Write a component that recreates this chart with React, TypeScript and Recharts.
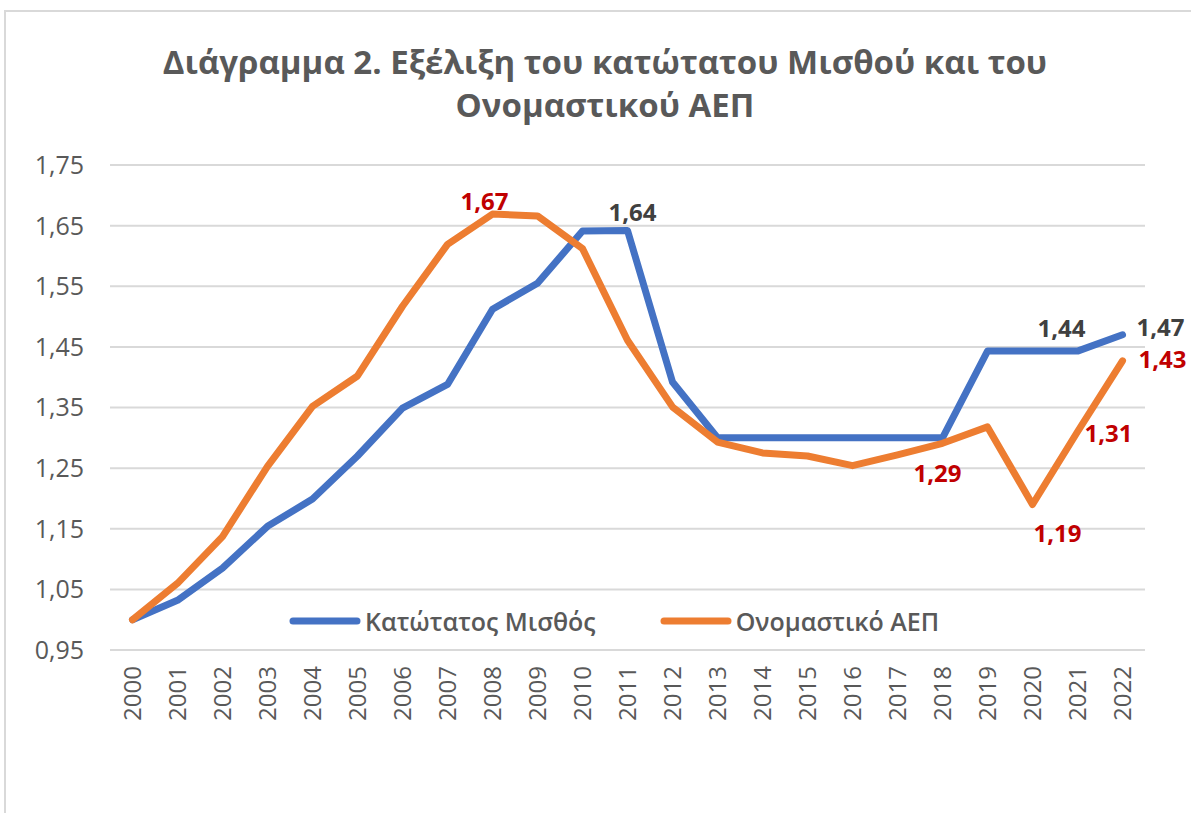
import React from "react";
import { CartesianGrid, LabelList, Legend, Line, LineChart, XAxis, YAxis } from "recharts";

const years = [
  "2000", "2001", "2002", "2003", "2004", "2005", "2006", "2007", "2008", "2009", "2010", "2011",
  "2012", "2013", "2014", "2015", "2016", "2017", "2018", "2019", "2020", "2021", "2022",
];

// Κατώτατος Μισθός (index 2000 = 1)
const minWage = [
  1.0, 1.032, 1.085, 1.154, 1.199, 1.27, 1.349, 1.388, 1.512, 1.555, 1.641, 1.642,
  1.392, 1.3, 1.3, 1.3, 1.3, 1.3, 1.3, 1.443, 1.443, 1.443, 1.47,
];

// Ονομαστικό ΑΕΠ (index 2000 = 1)
const nominalGdp = [
  1.0, 1.06, 1.137, 1.253, 1.352, 1.402, 1.517, 1.619, 1.669, 1.666, 1.612, 1.461,
  1.351, 1.293, 1.275, 1.27, 1.254, 1.272, 1.291, 1.318, 1.19, 1.31, 1.427,
];

const yTicks = [0.95, 1.05, 1.15, 1.25, 1.35, 1.45, 1.55, 1.65, 1.75];

const data = years.map((year, i) => ({ year, wage: minWage[i], gdp: nominalGdp[i] }));

// which points carry a data label, and where the label sits relative to the point
const wageLabelPos: Record<number, [number, number]> = { 11: [5, -19], 20: [29, -24], 22: [38, -8] };
const gdpLabelPos: Record<number, [number, number]> = {
  8: [-8, -14],
  18: [-5, 29],
  20: [25, 28],
  21: [31, 1],
  22: [40, -2],
};

const FONT = "'Open Sans', sans-serif";
const GREY = "#595959";
const BLUE = "#4472C4";
const ORANGE = "#ED7D31";

const fmt = (v: number) => v.toFixed(2).replace(".", ",");

function makeLabel(pos: Record<number, [number, number]>, color: string) {
  return (props: any) => {
    const p = pos[props.index];
    if (!p) return null;
    return (
      <text
        x={Number(props.x) + p[0]}
        y={Number(props.y) + p[1]}
        textAnchor="middle"
        dominantBaseline="central"
        fill={color}
        fontFamily={FONT}
        fontSize={24}
        fontWeight={700}
      >
        {fmt(Number(props.value))}
      </text>
    );
  };
}

function YearTick(props: any) {
  const { x, y, payload } = props;
  const ty = y + 16;
  return (
    <text
      x={x}
      y={ty}
      transform={`rotate(-90, ${x}, ${ty})`}
      textAnchor="end"
      dy="0.36em"
      fill={GREY}
      fontFamily={FONT}
      fontSize={24}
    >
      {payload.value}
    </text>
  );
}

function LegendBox() {
  const items = [
    { name: "Κατώτατος Μισθός", color: BLUE },
    { name: "Ονομαστικό ΑΕΠ", color: ORANGE },
  ];
  return (
    <div style={{ display: "flex", alignItems: "center", fontFamily: FONT }}>
      {items.map((it, i) => (
        <div key={it.name} style={{ display: "flex", alignItems: "center", marginRight: i === 0 ? 64 : 0 }}>
          <svg width={72} height={10} style={{ marginRight: 4 }}>
            <line x1={4} y1={5} x2={68} y2={5} stroke={it.color} strokeWidth={7} strokeLinecap="round" />
          </svg>
          <span style={{ fontSize: 25, fontWeight: 600, color: GREY, whiteSpace: "nowrap" }}>{it.name}</span>
        </div>
      ))}
    </div>
  );
}

export default function App() {
  return (
    <div style={{ position: "absolute", left: 0, top: 0, width: 1191, height: 813, background: "#fff", overflow: "hidden" }}>
      <div
        style={{
          position: "absolute",
          left: 4,
          top: 10,
          width: 1300,
          height: 900,
          borderLeft: "2px solid #d9d9d9",
          borderTop: "2px solid #d9d9d9",
        }}
      />
      <div
        style={{
          position: "absolute",
          left: 0,
          top: 40,
          width: 1210,
          textAlign: "center",
          fontFamily: FONT,
          fontWeight: 700,
          fontSize: 33,
          lineHeight: "43px",
          color: GREY,
        }}
      >
        <div>Διάγραμμα 2. Εξέλιξη του κατώτατου Μισθού και του</div>
        <div>Ονομαστικού ΑΕΠ</div>
      </div>
      <div style={{ position: "absolute", left: 0, top: 0 }}>
        <LineChart width={1191} height={813} data={data} margin={{ top: 165, right: 46, bottom: 63, left: 0 }}>
          <CartesianGrid vertical={false} stroke="#d9d9d9" strokeWidth={2} />
          <XAxis
            dataKey="year"
            interval={0}
            height={100}
            padding={{ left: 22.5, right: 22.5 }}
            axisLine={false}
            tickLine={false}
            tickSize={0}
            tickMargin={0}
            tick={<YearTick />}
          />
          <YAxis
            width={110}
            domain={[0.95, 1.75]}
            ticks={yTicks}
            interval={0}
            allowDataOverflow
            axisLine={false}
            tickLine={false}
            tickSize={0}
            tickMargin={26}
            tickFormatter={fmt}
            tick={{ fill: GREY, fontFamily: FONT, fontSize: 25 }}
          />
          <Legend
            verticalAlign="middle"
            align="center"
            layout="horizontal"
            content={() => <LegendBox />}
            wrapperStyle={{ left: 289, top: 604, width: 720 }}
          />
          <Line
            type="linear"
            dataKey="wage"
            name="Κατώτατος Μισθός"
            stroke={BLUE}
            strokeWidth={7}
            strokeLinejoin="round"
            strokeLinecap="round"
            dot={false}
            activeDot={false}
            isAnimationActive={false}
          >
            <LabelList dataKey="wage" content={makeLabel(wageLabelPos, "#404040")} />
          </Line>
          <Line
            type="linear"
            dataKey="gdp"
            name="Ονομαστικό ΑΕΠ"
            stroke={ORANGE}
            strokeWidth={7}
            strokeLinejoin="round"
            strokeLinecap="round"
            dot={false}
            activeDot={false}
            isAnimationActive={false}
          >
            <LabelList dataKey="gdp" content={makeLabel(gdpLabelPos, "#C00000")} />
          </Line>
        </LineChart>
      </div>
    </div>
  );
}
